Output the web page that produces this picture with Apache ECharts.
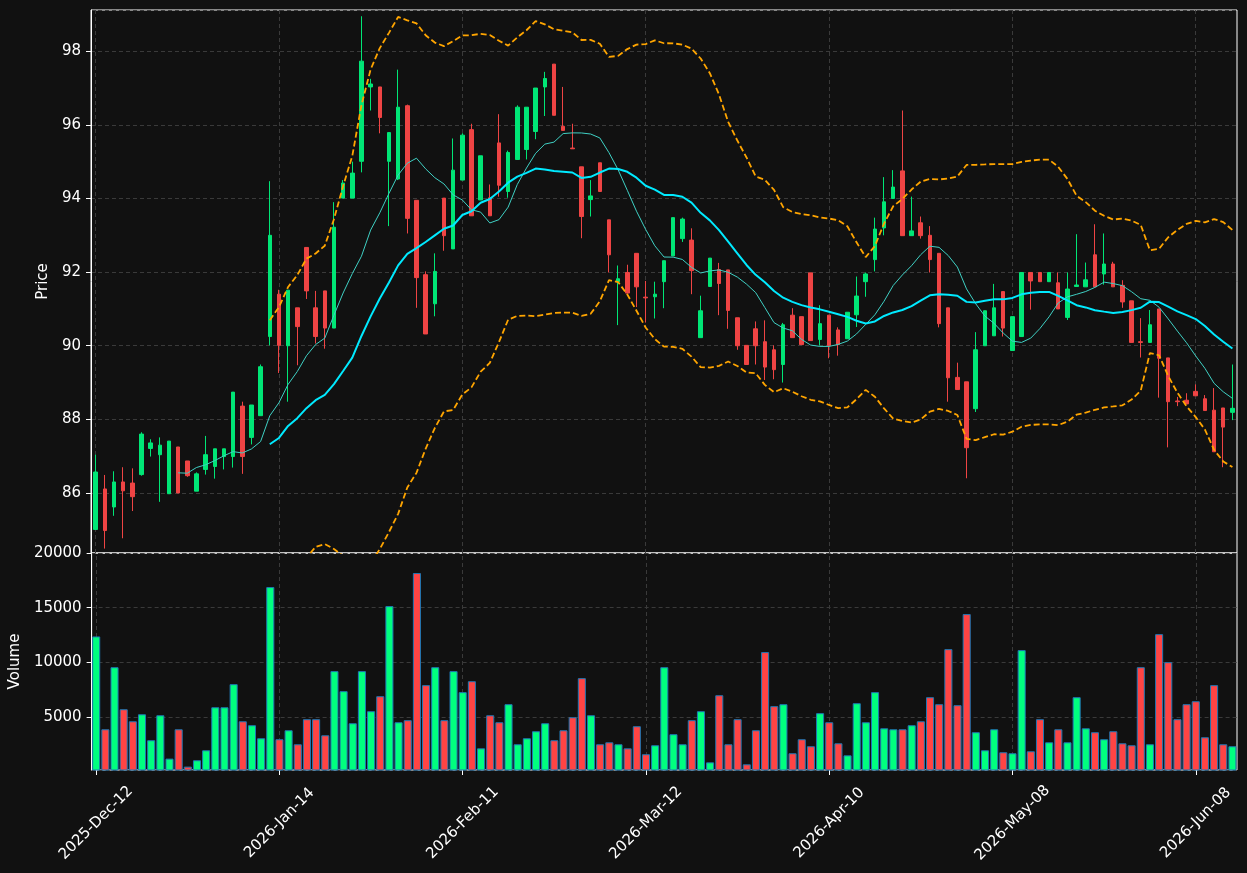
<!DOCTYPE html>
<html>
<head>
<meta charset="utf-8">
<script src="https://cdn.jsdelivr.net/npm/echarts@6/dist/echarts.min.js"></script>
<style>
  html, body { margin: 0; padding: 0; background: #111111; }
  #chart { width: 1247px; height: 873px; }
</style>
</head>
<body>
<div id="chart"></div>
<script>
// trading days: start date, skipped holidays
const startDate = '2025-12-12';
const holidays = ['2025-12-25', '2025-12-26', '2026-01-01', '2026-02-16', '2026-04-03', '2026-05-25'];
const monthNames = ['Jan', 'Feb', 'Mar', 'Apr', 'May', 'Jun', 'Jul', 'Aug', 'Sep', 'Oct', 'Nov', 'Dec'];

const opens = [
  85.01, 86.11, 85.62, 86.30, 86.27, 86.50, 87.21, 87.04, 85.98, 87.25,
  86.87, 86.05, 86.64, 86.72, 86.99, 86.99, 88.36, 87.51, 88.10, 90.25,
  91.40, 90.00, 91.03, 92.67, 91.03, 91.49, 90.48, 94.01, 94.01, 95.01,
  97.03, 97.03, 95.01, 94.53, 96.52, 93.95, 91.93, 91.14, 94.01, 92.63,
  94.50, 95.87, 93.96, 94.02, 95.51, 94.19, 95.06, 95.33, 95.82, 97.03,
  97.65, 95.96, 95.37, 94.86, 93.97, 94.97, 93.42, 91.74, 91.99, 92.51,
  91.32, 91.33, 91.74, 92.44, 92.91, 92.87, 90.22, 91.61, 92.07, 92.06,
  90.76, 90.01, 90.46, 90.11, 89.89, 89.49, 90.83, 90.79, 91.98, 90.17,
  90.83, 90.43, 90.19, 90.84, 91.74, 92.34, 93.20, 94.00, 94.75, 92.99,
  93.34, 93.00, 92.51, 91.03, 89.14, 89.02, 88.29, 90.00, 90.27, 91.47,
  89.87, 90.25, 91.99, 91.99, 91.74, 91.71, 90.77, 91.61, 91.60, 92.47,
  91.95, 92.22, 91.64, 91.22, 90.11, 90.09, 91.00, 89.67, 88.50, 88.52,
  88.76, 88.56, 88.25, 88.31, 88.19
];
const highs = [
  87.04, 86.49, 86.59, 86.70, 86.67, 87.65, 87.46, 87.51, 87.41, 87.25,
  86.87, 86.56, 87.55, 87.20, 87.20, 88.74, 88.48, 88.39, 89.49, 94.47,
  91.52, 91.51, 91.03, 92.67, 91.49, 91.49, 93.90, 94.50, 95.00, 98.95,
  97.25, 97.03, 95.79, 97.50, 96.55, 93.95, 92.02, 92.51, 94.01, 95.63,
  95.77, 96.03, 95.16, 94.38, 96.29, 95.30, 96.53, 96.48, 97.00, 97.44,
  97.65, 97.03, 96.03, 94.86, 94.50, 94.97, 93.42, 92.18, 92.20, 92.51,
  91.76, 91.74, 92.31, 93.48, 93.48, 93.19, 91.36, 92.38, 92.25, 92.06,
  90.76, 90.01, 90.66, 90.69, 90.01, 90.62, 91.02, 90.79, 91.98, 91.10,
  90.83, 90.50, 90.91, 91.88, 91.99, 93.48, 94.58, 94.77, 96.39, 94.05,
  93.51, 93.25, 92.51, 91.03, 89.54, 89.02, 90.37, 90.95, 91.68, 91.47,
  90.79, 91.99, 91.99, 91.99, 91.99, 91.99, 91.99, 93.03, 92.26, 93.30,
  93.05, 92.28, 91.78, 91.22, 90.75, 90.97, 91.00, 89.67, 88.61, 88.71,
  88.95, 88.66, 88.85, 88.31, 89.49
];
const lows = [
  85.00, 84.49, 85.38, 84.77, 85.51, 86.47, 86.99, 85.76, 85.98, 86.00,
  86.44, 86.05, 86.50, 86.39, 86.64, 86.69, 86.52, 87.32, 88.10, 90.01,
  89.26, 88.48, 89.47, 91.27, 90.06, 89.92, 90.48, 94.01, 94.01, 94.71,
  96.39, 95.77, 93.25, 94.50, 93.05, 91.03, 90.32, 90.80, 92.58, 92.63,
  94.50, 93.53, 93.96, 93.53, 94.05, 94.02, 95.06, 95.06, 95.61, 96.24,
  96.26, 95.85, 95.35, 92.92, 93.51, 94.19, 91.99, 90.56, 91.43, 91.05,
  90.63, 90.74, 91.02, 92.44, 92.82, 91.40, 90.22, 91.61, 90.83, 90.46,
  89.89, 89.49, 89.49, 89.07, 89.09, 89.00, 90.22, 90.03, 90.14, 90.01,
  89.66, 89.73, 90.19, 90.51, 91.33, 92.02, 93.00, 94.00, 92.99, 92.99,
  92.91, 91.99, 90.50, 88.48, 88.81, 86.40, 88.20, 90.00, 90.27, 90.25,
  89.87, 90.25, 90.98, 91.74, 91.74, 91.00, 90.70, 91.61, 91.60, 91.60,
  91.66, 91.60, 91.03, 90.09, 89.68, 90.09, 88.59, 87.24, 88.36, 88.42,
  88.64, 88.24, 87.12, 86.70, 87.98
];
const closes = [
  86.57, 84.98, 86.30, 86.06, 85.90, 87.60, 87.36, 87.30, 87.41, 86.00,
  86.47, 86.52, 87.04, 87.20, 87.20, 88.74, 86.99, 88.39, 89.43, 93.00,
  90.01, 91.51, 90.52, 91.49, 90.25, 90.48, 93.22, 94.42, 94.69, 97.73,
  97.11, 96.20, 95.79, 96.48, 93.46, 91.85, 90.32, 92.02, 92.99, 94.77,
  95.72, 93.53, 95.16, 93.53, 94.36, 95.25, 96.48, 96.48, 97.00, 97.26,
  96.26, 95.85, 95.35, 93.51, 94.07, 94.19, 92.47, 91.82, 91.43, 91.60,
  91.30, 91.40, 92.31, 93.48, 93.44, 92.04, 90.95, 92.38, 91.69, 90.96,
  90.00, 89.49, 90.00, 89.42, 89.35, 90.57, 90.22, 90.03, 90.14, 90.60,
  90.00, 90.03, 90.91, 91.35, 91.95, 93.17, 93.91, 94.31, 92.99, 93.12,
  92.99, 92.34, 90.60, 89.13, 88.81, 87.23, 89.89, 90.95, 91.03, 90.48,
  90.79, 91.99, 91.76, 91.74, 91.99, 91.00, 91.54, 91.65, 91.79, 91.60,
  92.22, 91.60, 91.19, 90.09, 90.09, 90.57, 89.66, 88.48, 88.48, 88.42,
  88.64, 88.24, 87.12, 87.79, 88.30
];
const volumes = [
  12380, 3900, 9570, 5730, 4630, 5270, 2900, 5180, 1220, 3900,
  490, 1070, 1980, 5910, 5910, 8020, 4630, 4270, 3080, 16890,
  2990, 3810, 2530, 4820, 4820, 3350, 9210, 7380, 4450, 9210,
  5550, 6920, 15150, 4540, 4730, 18170, 7930, 9570, 4730, 9210,
  7290, 8290, 2160, 5180, 4540, 6190, 2530, 3080, 3720, 4450,
  2900, 3810, 5000, 8570, 5180, 2530, 2710, 2530, 2160, 4180,
  1620, 2440, 9570, 3450, 2530, 4730, 5550, 880, 7010, 2530,
  4820, 700, 3810, 10950, 6010, 6190, 1710, 2990, 2350, 5370,
  4540, 2620, 1520, 6280, 4540, 7290, 3990, 3900, 3900, 4270,
  4630, 6830, 6190, 11220, 6100, 14420, 3630, 1980, 3900, 1800,
  1710, 11130, 1890, 4820, 2710, 3900, 2710, 6830, 3990, 3630,
  2990, 3720, 2620, 2440, 9570, 2530, 12590, 10030, 4820, 6190,
  6460, 3170, 7930, 2530, 2350
];

const tickStep = 20;
const maShortLen = 10;
const maLongLen = 20;

// build date labels
const holidaySet = new Set(holidays);
const dates = [];
const d = new Date(startDate + 'T00:00:00Z');
while (dates.length < closes.length) {
  const iso = d.toISOString().slice(0, 10);
  const wd = d.getUTCDay();
  if (wd !== 0 && wd !== 6 && !holidaySet.has(iso)) {
    dates.push(d.getUTCFullYear() + '-' + monthNames[d.getUTCMonth()] + '-' + String(d.getUTCDate()).padStart(2, '0'));
  }
  d.setUTCDate(d.getUTCDate() + 1);
}
const tickDates = dates.filter((x, i) => i % tickStep === 0);

function movingAvg(arr, n) {
  return arr.map((v, i) => {
    if (i < n - 1) return null;
    let s = 0;
    for (let k = i - n + 1; k <= i; k++) s += arr[k];
    return +(s / n).toFixed(4);
  });
}
function bands(arr, n, mult) {
  const mid = movingAvg(arr, n);
  const up = [], lo = [];
  arr.forEach((v, i) => {
    if (mid[i] === null) { up.push(null); lo.push(null); return; }
    let ss = 0;
    for (let k = i - n + 1; k <= i; k++) ss += (arr[k] - mid[i]) ** 2;
    const sd = Math.sqrt(ss / (n - 1));
    up.push(+(mid[i] + mult * sd).toFixed(4));
    lo.push(+(mid[i] - mult * sd).toFixed(4));
  });
  return {up, lo};
}

const maShort = movingAvg(closes, maShortLen);
const maLong = movingAvg(closes, maLongLen);
const bb = bands(closes, maLongLen, 2);

const upColor = '#00e676', downColor = '#ef4444';
const volUp = '#00ff7f', volDown = '#ff4444';
const gridColor = '#3a3a3a';
const fontFamily = 'DejaVu Sans';
const fontSize = 15;

const candleData = opens.map((o, i) => [o, closes[i], lows[i], highs[i]]);
const volData = volumes.map((v, i) => ({
  value: v,
  itemStyle: {color: closes[i] >= opens[i] ? volUp : volDown}
}));

// dashed vertical grid lines at the labelled dates, kept under the marks
function gridSeries(xi) {
  return {
    type: 'line', xAxisIndex: xi, yAxisIndex: xi, z: 0, silent: true,
    data: [], symbol: 'none',
    markLine: {
      silent: true, symbol: 'none', z: 0,
      label: {show: false},
      lineStyle: {color: gridColor, type: [4, 3], width: 1},
      data: tickDates.map(t => ({xAxis: t}))
    }
  };
}

const chart = echarts.init(document.getElementById('chart'));
chart.setOption({
  backgroundColor: '#111111',
  animation: false,
  textStyle: {fontFamily: fontFamily},
  grid: [
    {left: 91, top: 10, width: 1146, height: 543, show: true, borderColor: '#ffffff', borderWidth: 1},
    {left: 91, top: 553, width: 1146, height: 217, show: true, borderColor: '#ffffff', borderWidth: 1}
  ],
  xAxis: [
    {
      type: 'category', gridIndex: 0, data: dates, boundaryGap: true,
      axisLine: {show: false}, axisTick: {show: false}, axisLabel: {show: false},
      splitLine: {show: false}
    },
    {
      type: 'category', gridIndex: 1, data: dates, boundaryGap: true,
      axisLine: {show: false},
      axisTick: {
        show: true, alignWithLabel: true, length: 5,
        interval: i => i % tickStep === 0,
        lineStyle: {color: '#ffffff'}
      },
      axisLabel: {
        interval: i => i % tickStep === 0,
        rotate: 45, align: 'center', verticalAlign: 'middle', margin: 53,
        color: '#ffffff', fontSize: fontSize, fontFamily: fontFamily
      },
      splitLine: {show: false}
    }
  ],
  yAxis: [
    {
      type: 'value', gridIndex: 0, min: 84.37, max: 99.12, splitNumber: 7,
      name: 'Price', nameLocation: 'middle', nameGap: 35,
      nameTextStyle: {color: '#ffffff', fontSize: fontSize, fontFamily: fontFamily},
      axisLine: {show: true, lineStyle: {color: '#ffffff'}},
      axisTick: {show: true, length: 5, lineStyle: {color: '#ffffff'}},
      axisLabel: {
        color: '#ffffff', fontSize: fontSize, margin: 10, showMinLabel: false, showMaxLabel: false,
        formatter: v => (Math.abs(v - Math.round(v)) < 1e-6 ? String(Math.round(v)) : '')
      },
      splitLine: {show: true, lineStyle: {color: gridColor, type: [4, 3]}}
    },
    {
      type: 'value', gridIndex: 1, min: 180, max: 20000, splitNumber: 4,
      name: 'Volume', nameLocation: 'middle', nameGap: 64,
      nameTextStyle: {color: '#ffffff', fontSize: fontSize, fontFamily: fontFamily},
      axisLine: {show: true, lineStyle: {color: '#ffffff'}},
      axisTick: {show: true, length: 5, lineStyle: {color: '#ffffff'}},
      axisLabel: {
        color: '#ffffff', fontSize: fontSize, margin: 10, showMinLabel: false,
        formatter: v => String(Math.round(v))
      },
      splitLine: {show: true, lineStyle: {color: gridColor, type: [4, 3]}}
    }
  ],
  series: [
    gridSeries(0),
    gridSeries(1),
    {
      type: 'candlestick', name: 'OHLC', xAxisIndex: 0, yAxisIndex: 0,
      data: candleData, barWidth: 4,
      itemStyle: {
        color: upColor, color0: downColor,
        borderColor: upColor, borderColor0: downColor, borderWidth: 1
      }
    },
    {
      type: 'line', name: 'MA10', xAxisIndex: 0, yAxisIndex: 0,
      data: maShort, showSymbol: false, symbol: 'none',
      lineStyle: {color: '#3fd0c4', width: 1}
    },
    {
      type: 'line', name: 'MA20', xAxisIndex: 0, yAxisIndex: 0,
      data: maLong, showSymbol: false, symbol: 'none',
      lineStyle: {color: '#00eaff', width: 2}
    },
    {
      type: 'line', name: 'Upper', xAxisIndex: 0, yAxisIndex: 0,
      data: bb.up, showSymbol: false, symbol: 'none',
      lineStyle: {color: '#ffa500', width: 1.8, type: [6, 3]}
    },
    {
      type: 'line', name: 'Lower', xAxisIndex: 0, yAxisIndex: 0,
      data: bb.lo, showSymbol: false, symbol: 'none',
      lineStyle: {color: '#ffa500', width: 1.8, type: [6, 3]}
    },
    {
      type: 'bar', name: 'Volume', xAxisIndex: 1, yAxisIndex: 1,
      data: volData, barWidth: '88%',
      itemStyle: {borderColor: '#1f77b4', borderWidth: 1}
    }
  ]
});
</script>
</body>
</html>
